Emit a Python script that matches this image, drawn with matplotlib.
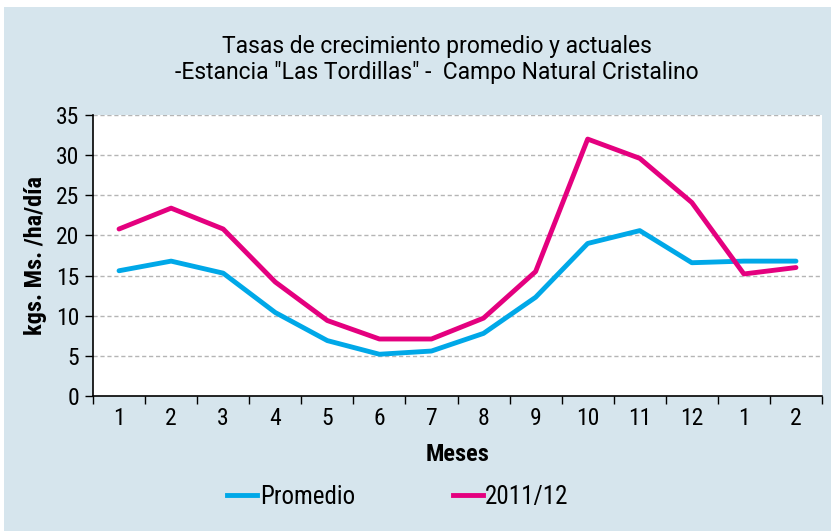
import matplotlib.pyplot as plt
from matplotlib.patches import Rectangle
from matplotlib.lines import Line2D

meses = ['1', '2', '3', '4', '5', '6', '7', '8', '9', '10', '11', '12', '1', '2']
promedio = [15.6, 16.8, 15.3, 10.4, 6.9, 5.2, 5.6, 7.8, 12.3, 19.0, 20.6, 16.6, 16.8, 16.8]
actual = [20.8, 23.4, 20.8, 14.2, 9.4, 7.1, 7.1, 9.7, 15.5, 32.0, 29.6, 24.1, 15.2, 16.0]

azul = '#00a8e8'
magenta = '#e4007f'
fondo = '#d6e5ed'
narrow = ['Roboto Condensed', 'DejaVu Sans']

fig = plt.figure(figsize=(8.31, 5.31), dpi=100)
fig.patch.set_facecolor('white')
fig.add_artist(Rectangle((4 / 831, 0), 1, 524 / 531, transform=fig.transFigure,
                         facecolor=fondo, edgecolor='none', zorder=0))

ax = fig.add_axes([93 / 831, 135 / 531, 729 / 831, 281 / 531])
ax.set_facecolor('white')
x = list(range(len(meses)))
ax.plot(x, promedio, color=azul, linewidth=3.5, solid_capstyle='round')
ax.plot(x, actual, color=magenta, linewidth=3.5, solid_capstyle='round')

ax.set_xlim(-0.5, len(meses) - 0.5)
ax.set_ylim(0, 35)
ax.set_yticks(range(0, 36, 5))
for y in range(5, 36, 5):
    ax.axhline(y, color='#b5b5b5', linestyle=(0, (3, 2)), linewidth=1, zorder=0)

ax.set_xticks([i - 0.5 for i in range(len(meses) + 1)])
ax.set_xticklabels([])
ax.set_xticks(x, minor=True)
ax.set_xticklabels(meses, minor=True, family=narrow, fontsize=17)
ax.tick_params(axis='x', which='minor', length=0, pad=8)
ax.tick_params(axis='x', which='major', length=6, direction='out', width=1)
ax.tick_params(axis='y', length=6, direction='out', width=1, pad=4)
for lab in ax.get_yticklabels():
    lab.set_family(narrow)
    lab.set_fontsize(17)

for s in ['top', 'right']:
    ax.spines[s].set_visible(False)
for s in ['left', 'bottom']:
    ax.spines[s].set_linewidth(1.2)

ax.set_xlabel('Meses', family=narrow, fontsize=17.5, fontweight='bold', labelpad=9)
ax.set_ylabel('kgs. Ms. /ha/día', family=narrow, fontsize=17.5, fontweight='bold', labelpad=6)

fig.text(437 / 831, 1 - 47 / 531, 'Tasas de crecimiento promedio y actuales',
         ha='center', va='center', family=['Roboto', 'DejaVu Sans'], fontsize=16.5)
fig.text(437 / 831, 1 - 73 / 531, '-Estancia "Las Tordillas" -  Campo Natural Cristalino',
         ha='center', va='center', family=['Roboto', 'DejaVu Sans'], fontsize=16.5)

handles = [Line2D([], [], color=azul, linewidth=3.5),
           Line2D([], [], color=magenta, linewidth=3.5)]
fig.legend(handles, ['Promedio', '2011/12'], loc='center', ncol=2,
           bbox_to_anchor=(398 / 831, 1 - 497 / 531), frameon=False,
           prop={'family': narrow, 'size': 18}, handlelength=1.2,
           handletextpad=0.1, columnspacing=3.9)

fig.savefig('out.png', dpi=100, facecolor=fig.get_facecolor())
